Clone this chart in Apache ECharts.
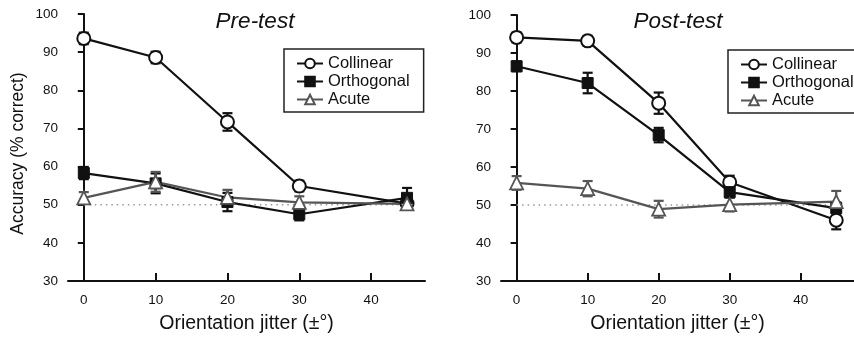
<!DOCTYPE html>
<html>
<head>
<meta charset="utf-8">
<script src="https://cdn.jsdelivr.net/npm/echarts@6/dist/echarts.min.js"></script>
<style>
html,body{margin:0;padding:0;background:#fff;}
#chart{width:854px;height:339px;}
</style>
</head>
<body>
<div id="chart"></div>
<script>
// ---- data ----
const jitter = [0, 10, 20, 30, 45];
const xTicks = [0, 10, 20, 30, 40];
const seriesNames = ['Collinear', 'Orthogonal', 'Acute'];
const panelTitles = ['Pre-test', 'Post-test'];

const preCollinear = [93.6, 88.6, 71.7, 54.9, 50.3];
const preCollinearErr = [1.5, 1.5, 2.3, 1.4, 1.5];
const preOrthogonal = [58.3, 55.6, 50.7, 47.5, 51.8];
const preOrthogonalErr = [1.6, 2.6, 2.4, 1.6, 2.6];
const preAcute = [51.8, 56.0, 51.9, 50.6, 50.2];
const preAcuteErr = [1.5, 2.6, 2.0, 1.6, 1.5];

const postCollinear = [94.1, 93.2, 76.8, 56.0, 46.0];
const postCollinearErr = [1.3, 1.3, 2.8, 1.7, 2.4];
const postOrthogonal = [86.5, 82.1, 68.4, 53.4, 49.2];
const postOrthogonalErr = [1.3, 2.7, 1.9, 1.5, 1.5];
const postAcute = [55.8, 54.3, 48.9, 50.1, 50.9];
const postAcuteErr = [1.8, 2.0, 2.2, 1.8, 2.8];

const chanceLevel = 50;

// ---- styles ----
const FONT = 'Liberation Sans, Arial, sans-serif';
const styles = {
  Collinear: {color: '#111', symbol: 'circle', size: 13, fill: '#fff', bw: 2},
  Orthogonal: {color: '#111', symbol: 'rect', size: 11, fill: '#111', bw: 1},
  Acute: {color: '#555', symbol: 'triangle', size: 13, fill: '#fff', bw: 1.8}
};

const panels = [
  {values: [preCollinear, preOrthogonal, preAcute], errs: [preCollinearErr, preOrthogonalErr, preAcuteErr]},
  {values: [postCollinear, postOrthogonal, postAcute], errs: [postCollinearErr, postOrthogonalErr, postAcuteErr]}
];

function errRenderer(color) {
  return function (params, api) {
    const x = api.value(0), lo = api.value(1), hi = api.value(2);
    const a = api.coord([x, hi]), b = api.coord([x, lo]);
    const w = 5;
    const st = {stroke: color, lineWidth: 2.2, fill: null};
    return {type: 'group', children: [
      {type: 'line', shape: {x1: a[0], y1: a[1], x2: b[0], y2: b[1]}, style: st},
      {type: 'line', shape: {x1: a[0] - w, y1: a[1], x2: a[0] + w, y2: a[1]}, style: st},
      {type: 'line', shape: {x1: b[0] - w, y1: b[1], x2: b[0] + w, y2: b[1]}, style: st}
    ]};
  };
}

const grids = [
  {left: 68, top: 14, width: 357, height: 269},
  {left: 501, top: 15, width: 357, height: 268}
];

const xAxes = [], yAxes = [], series = [];
panels.forEach((p, gi) => {
  xAxes.push({
    type: 'value', gridIndex: gi, min: -2.2, max: 47.5,
    name: 'Orientation jitter (±°)', nameLocation: 'middle', nameGap: 33,
    nameTextStyle: {fontFamily: FONT, fontSize: 19.5, color: '#111'},
    axisLine: {show: true, lineStyle: {color: '#111', width: 2}},
    axisTick: {show: true, inside: true, length: 8, lineStyle: {color: '#111', width: 2}, customValues: xTicks},
    axisLabel: {fontFamily: FONT, fontSize: 13.5, color: '#111', margin: 12, customValues: xTicks},
    splitLine: {show: false}
  });
  yAxes.push({
    type: 'value', gridIndex: gi, min: 30, max: 100, interval: 10,
    name: gi === 0 ? 'Accuracy (% correct)' : '', nameLocation: 'middle', nameGap: 41,
    nameTextStyle: {fontFamily: FONT, fontSize: 17.5, color: '#111', padding: [0, 12, 0, 0]},
    axisLine: {show: true, lineStyle: {color: '#111', width: 2}},
    axisTick: {show: true, inside: false, length: 6, lineStyle: {color: '#111', width: 2}},
    axisLabel: {fontFamily: FONT, fontSize: 13.5, color: '#111', margin: 10},
    splitLine: {show: false}
  });
  // chance line
  series.push({
    type: 'line', xAxisIndex: gi, yAxisIndex: gi, silent: true, symbol: 'none', z: 1,
    data: [[jitter[0], chanceLevel], [jitter[jitter.length - 1], chanceLevel]],
    lineStyle: {color: '#999', width: 1.5, type: [1.5, 4]}
  });
  seriesNames.forEach((name, si) => {
    const s = styles[name];
    series.push({
      type: 'custom', xAxisIndex: gi, yAxisIndex: gi, silent: true, z: 2,
      renderItem: errRenderer(s.color),
      data: jitter.map((x, i) => [x, p.values[si][i] - p.errs[si][i], p.values[si][i] + p.errs[si][i]])
    });
    series.push({
      type: 'line', name: name, xAxisIndex: gi, yAxisIndex: gi, z: 3,
      data: jitter.map((x, i) => [x, p.values[si][i]]),
      symbol: s.symbol, symbolSize: s.size, showAllSymbol: true,
      lineStyle: {color: s.color, width: 2.2},
      itemStyle: {color: s.fill, borderColor: s.color, borderWidth: s.bw},
      emphasis: {disabled: true}
    });
  });
});

const legendBase = {
  orient: 'vertical', data: seriesNames, itemGap: 1, itemWidth: 26, itemHeight: 12,
  textStyle: {fontFamily: FONT, fontSize: 16.5, color: '#111'},
  padding: [6, 14, 4, 12], borderColor: '#222', borderWidth: 1.5, selectedMode: false
};

const option = {
  backgroundColor: '#fff',
  animation: false,
  title: panelTitles.map((t, i) => ({
    text: t, left: i === 0 ? 250 : 673, top: 5, textAlign: 'center',
    textStyle: {fontFamily: FONT, fontSize: 22.5, fontStyle: 'italic', fontWeight: 'normal', color: '#111'}
  })),
  legend: [
    Object.assign({}, legendBase, {left: 284, top: 49}),
    Object.assign({}, legendBase, {left: 728, top: 50})
  ],
  grid: grids,
  xAxis: xAxes,
  yAxis: yAxes,
  series: series
};

const chart = echarts.init(document.getElementById('chart'), null, {renderer: 'canvas'});
chart.setOption(option);
</script>
</body>
</html>
